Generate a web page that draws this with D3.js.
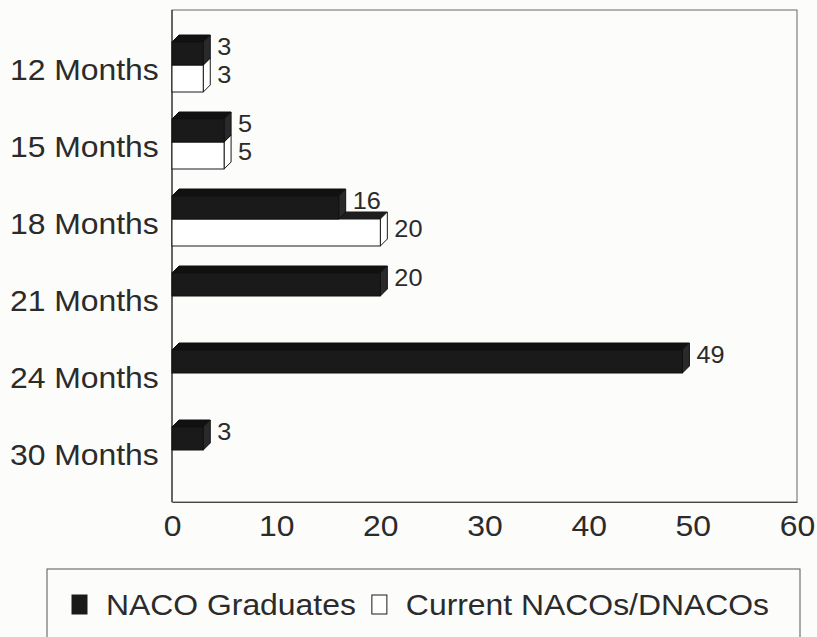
<!DOCTYPE html>
<html>
<head>
<meta charset="utf-8">
<script src="https://cdn.jsdelivr.net/npm/d3@7"></script>
<style>
  html, body { margin: 0; padding: 0; background: #fcfcfa; }
  svg { display: block; }
  text { font-family: "Liberation Sans", Arial, sans-serif; fill: #2b2b2b; }
</style>
</head>
<body>
<svg id="chart" width="817" height="637"></svg>
<script>
const categories = ["12 Months", "15 Months", "18 Months", "21 Months", "24 Months", "30 Months"];
const seriesNames = ["NACO Graduates", "Current NACOs/DNACOs"];
const nacoGraduates = [3, 5, 16, 20, 49, 3];
const currentNacos = [3, 5, 20, null, null, null];
const xTicks = [0, 10, 20, 30, 40, 50, 60];

const W = 817, H = 637;
const plot = { left: 172, right: 797, top: 10, bottom: 502 };
const depth = 7;
const SX = 1.1; // horizontal stretch of the original's lettering
const FS = 29;

const svg = d3.select("#chart");
svg.append("rect").attr("width", W).attr("height", H).attr("fill", "#fcfcfa");

const x = d3.scaleLinear().domain([0, 60]).range([plot.left, plot.right]);
const y = d3.scaleBand().domain(categories).range([34, 496]);

// plot frame
svg.append("rect")
  .attr("x", plot.left).attr("y", plot.top)
  .attr("width", plot.right - plot.left).attr("height", plot.bottom - plot.top)
  .attr("fill", "none").attr("stroke", "#666").attr("stroke-width", 1);

// axes
const xAxis = svg.append("g")
  .attr("transform", `translate(0,${plot.bottom})`)
  .call(d3.axisBottom(x).tickValues(xTicks).tickSize(0).tickPadding(13).tickFormat(d3.format("d")));
xAxis.select(".domain").attr("stroke", "#444");
xAxis.selectAll("text")
  .attr("font-size", FS).attr("fill", "#2b2b2b")
  .attr("font-family", "Liberation Sans, Arial, sans-serif")
  .attr("dy", "0.71em")
  .attr("transform", `scale(${SX},1)`);

const yAxis = svg.append("g")
  .attr("transform", `translate(${plot.left},0)`)
  .call(d3.axisLeft(y).tickSize(0).tickPadding(12));
yAxis.selectAll(".tick").attr("transform", d => `translate(0,${y(d) + y.bandwidth() / 2 - 3})`);
yAxis.select(".domain").remove();
yAxis.selectAll("text")
  .attr("font-size", FS).attr("fill", "#2b2b2b")
  .attr("font-family", "Liberation Sans, Arial, sans-serif")
  .attr("dy", "0.35em")
  .attr("transform", `scale(${SX},1)`);

svg.append("line")
  .attr("x1", plot.left).attr("x2", plot.left)
  .attr("y1", plot.top).attr("y2", plot.bottom)
  .attr("stroke", "#333").attr("stroke-width", 1.2);

// 3D bar helper
function bar3d(g, v, yf, hf, front, top, side, stroke) {
  const x0 = x(0), xv = x(v), d = depth;
  g.append("polygon")
    .attr("points", [[x0, yf], [x0 + d, yf - d], [xv + d, yf - d], [xv, yf]].map(p => p.join(",")).join(" "))
    .attr("fill", top).attr("stroke", stroke).attr("stroke-width", 1).attr("stroke-linejoin", "round");
  g.append("polygon")
    .attr("points", [[xv, yf], [xv + d, yf - d], [xv + d, yf + hf - d], [xv, yf + hf]].map(p => p.join(",")).join(" "))
    .attr("fill", side).attr("stroke", stroke).attr("stroke-width", 1).attr("stroke-linejoin", "round");
  g.append("rect")
    .attr("x", x0).attr("y", yf).attr("width", xv - x0).attr("height", hf)
    .attr("fill", front).attr("stroke", stroke).attr("stroke-width", 1);
}

function valueLabel(v, yc) {
  svg.append("g")
    .attr("transform", `translate(${x(v) + depth + 7},${yc}) scale(${SX},1)`)
    .append("text")
    .attr("font-size", 23).attr("dy", "0.35em")
    .text(v);
}

const bars = svg.append("g");
categories.forEach((c, i) => {
  const y0 = y(c);
  const wv = currentNacos[i];
  if (wv != null) {
    bar3d(bars, wv, y0 + 31, 27, "#ffffff", "#1e1e1e", "#ffffff", "#1a1a1a");
  }
  const bv = nacoGraduates[i];
  if (bv != null) {
    bar3d(bars, bv, y0 + 8, 23, "#1a1a1a", "#111", "#2a2a2a", "#111");
  }
});
categories.forEach((c, i) => {
  const y0 = y(c);
  if (currentNacos[i] != null) valueLabel(currentNacos[i], y0 + 41);
  if (nacoGraduates[i] != null) valueLabel(nacoGraduates[i], y0 + 12.5);
});

// legend
const lg = svg.append("g");
lg.append("rect")
  .attr("x", 47).attr("y", 569).attr("width", 753).attr("height", 90)
  .attr("fill", "none").attr("stroke", "#555").attr("stroke-width", 1);

const legendY = 605;
const items = lg.selectAll("g.item").data(seriesNames).join("g").attr("class", "item");
items.append("rect")
  .attr("width", 15).attr("height", 19)
  .attr("y", -10)
  .attr("fill", (d, i) => i === 0 ? "#1a1a1a" : "#ffffff")
  .attr("stroke", "#1a1a1a").attr("stroke-width", 1);
items.append("g")
  .attr("transform", `translate(34,0) scale(${SX},1)`)
  .append("text")
  .attr("font-size", FS).attr("dy", "0.35em")
  .text(d => d);

let cx = 72;
items.each(function () {
  const t = d3.select(this).select("text").node();
  const w = 34 + t.getComputedTextLength() * SX;
  d3.select(this).attr("transform", `translate(${cx},${legendY})`);
  cx += w + 16;
});
</script>
</body>
</html>
